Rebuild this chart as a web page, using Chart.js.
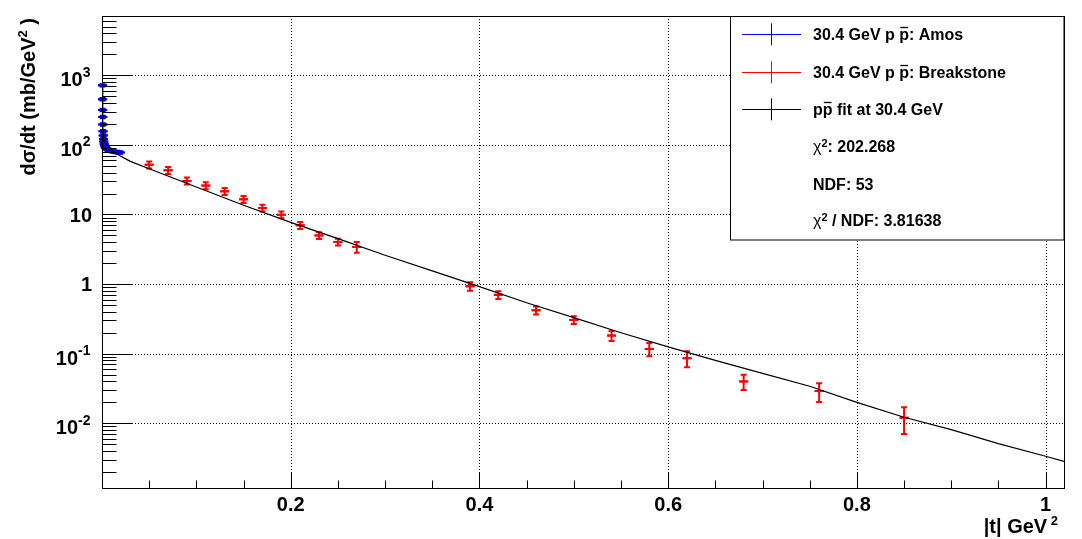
<!DOCTYPE html>
<html><head><meta charset="utf-8">
<script src="https://cdn.jsdelivr.net/npm/chart.js@4.4.0/dist/chart.umd.min.js"></script>
<style>html,body{margin:0;padding:0;background:#fff;overflow:hidden}canvas{display:block}</style>
</head><body>
<canvas id="c" width="1082" height="539"></canvas>
<script>
// ---- data ----
const amosT = [0.0005,0.0006,0.0007,0.0008,0.0009,0.0011,0.0013,0.0016,0.0019,0.0023,0.0027,0.0032,0.0037,0.0043,0.0050,0.0058,0.0067,0.0077,0.0088,0.0100,0.0113,0.0127,0.0142,0.0158,0.0175,0.0193];
const amosV = [718,452,318,252,196,157,137,122,112,104,99,95,92,90,88,86,85,84,83,82,81,80,79,79,78,78];
const amosE = [25,18,13,10,8,6,5.5,5,4.5,4.2,4,3.8,3.7,3.6,3.5,3.4,3.4,3.4,3.3,3.3,3.2,3.2,3.2,3.2,3.1,3.1];

const brkT = [0.05,0.07,0.09,0.11,0.13,0.15,0.17,0.19,0.21,0.23,0.25,0.27,0.39,0.42,0.46,0.50,0.54,0.58,0.62,0.68,0.76,0.85];
const brkV = [51.9,43.2,30.4,26.0,21.5,16.5,12.4,9.9,7.0,5.0,4.03,3.42,0.93,0.70,0.42,0.306,0.182,0.117,0.086,0.040,0.029,0.012];
const brkE = [6,5,3.5,3,2.5,1.9,1.4,1.1,0.8,0.55,0.45,0.6,0.13,0.09,0.055,0.04,0.03,0.025,0.022,0.010,0.0087,0.005];

const fitT = [0.0005,0.0007,0.0009,0.0012,0.002,0.004,0.0064,0.010,0.0145,0.019,0.03,0.05,0.10,0.15,0.20,0.25,0.30,0.35,0.40,0.45,0.50,0.55,0.60,0.65,0.70,0.75,0.80,0.85,0.90,0.95,1.00,1.0195];
const fitV = [720,330,200,140,118,102,93,83,76,70,58,45.5,24.8,13.6,7.7,4.5,2.6,1.55,0.92,0.54,0.33,0.20,0.125,0.080,0.052,0.034,0.020,0.0122,0.0081,0.0051,0.00336,0.00284];

const xMajorTicks = [0.2,0.4,0.6,0.8,1.0];
const xTickLabels = ['0.2','0.4','0.6','0.8','1'];
const xMinorStep = 0.05;
const yDecades = [0.01,0.1,1,10,100,1000];
const yTickBase = ['10','10','1','10','10','10'];
const yTickExp  = ['-2','-1','','','2','3'];

const legendRows = [
  {kind:'blue', parts:[['30.4 GeV p ','b'],['p','bo'],[': Amos','b']]},
  {kind:'red', parts:[['30.4 GeV p ','b'],['p','bo'],[': Breakstone','b']]},
  {kind:'black', parts:[['p','b'],['p','bo'],[' fit at 30.4 GeV','b']]},
  {kind:null, parts:[['\u03C7','chi'],['2','sup'],[': 202.268','b']]},
  {kind:null, parts:[['NDF: 53','b']]},
  {kind:null, parts:[['\u03C7','chi'],['2','sup'],[' / NDF: 3.81638','b']]}
];

const FF = '"Liberation Sans", Arial, Helvetica, sans-serif';

function rich(ctx, segs, x, y, align) {
  let w = 0;
  segs.forEach(s => { ctx.font = s.font; s.w = ctx.measureText(s.text).width; w += s.w; });
  let cx = align === 'right' ? x - w : (align === 'center' ? x - w / 2 : x);
  ctx.textAlign = 'left'; ctx.textBaseline = 'alphabetic';
  segs.forEach(s => {
    ctx.font = s.font; ctx.fillText(s.text, cx, y + (s.dy || 0));
    if (s.over) { ctx.beginPath(); ctx.lineWidth = 1.3; ctx.moveTo(cx + 1, y - 12.5); ctx.lineTo(cx + s.w - 1, y - 12.5); ctx.stroke(); }
    cx += s.w;
  });
  return w;
}

function errBars(ctx, chart, T, V, E, color) {
  const x = chart.scales.x, y = chart.scales.y;
  ctx.strokeStyle = color; ctx.lineWidth = 2; ctx.setLineDash([]);
  for (let i = 0; i < T.length; i++) {
    const px = x.getPixelForValue(T[i]);
    const pc = y.getPixelForValue(V[i]);
    const pTop = y.getPixelForValue(V[i] + E[i]);
    const pBot = y.getPixelForValue(Math.max(V[i] - E[i], 1e-6));
    ctx.beginPath();
    ctx.moveTo(px, pTop); ctx.lineTo(px, pBot);
    ctx.moveTo(px - 3, pTop); ctx.lineTo(px + 3, pTop);
    ctx.moveTo(px - 3, pBot); ctx.lineTo(px + 3, pBot);
    ctx.moveTo(px - 4.5, pc); ctx.lineTo(px + 4.5, pc);
    ctx.stroke();
  }
}

const rootPlugin = {
  id: 'rootStyle',
  beforeDatasetsDraw(chart) {
    const ctx = chart.ctx, a = chart.chartArea, x = chart.scales.x, y = chart.scales.y;
    ctx.save();
    ctx.strokeStyle = '#000'; ctx.lineWidth = 1; ctx.setLineDash([1, 2]);
    xMajorTicks.forEach(v => {
      const p = Math.round(x.getPixelForValue(v)) + 0.5;
      ctx.beginPath(); ctx.moveTo(p, a.top); ctx.lineTo(p, a.bottom); ctx.stroke();
    });
    yDecades.forEach(v => {
      const p = Math.round(y.getPixelForValue(v)) + 0.5;
      ctx.beginPath(); ctx.moveTo(a.left, p); ctx.lineTo(a.right, p); ctx.stroke();
    });
    ctx.setLineDash([]);
    errBars(ctx, chart, brkT, brkV, brkE, '#ff0000');
    errBars(ctx, chart, amosT, amosV, amosE, '#0000ff');
    ctx.restore();
  },
  afterDatasetsDraw(chart) {
    const ctx = chart.ctx, a = chart.chartArea, x = chart.scales.x, y = chart.scales.y;
    ctx.save();
    ctx.strokeStyle = '#000'; ctx.fillStyle = '#000'; ctx.lineWidth = 1; ctx.setLineDash([]);
    ctx.strokeRect(Math.round(a.left) + 0.5, Math.round(a.top) + 0.5, Math.round(a.right - a.left), Math.round(a.bottom - a.top));
    const bot = Math.round(a.bottom) + 0.5;
    for (let k = 1; k * xMinorStep <= x.max; k++) {
      const v = k * xMinorStep;
      const p = Math.round(x.getPixelForValue(v)) + 0.5;
      const major = xMajorTicks.some(m => Math.abs(m - v) < 1e-9);
      ctx.beginPath(); ctx.moveTo(p, bot); ctx.lineTo(p, bot - (major ? 16 : 8)); ctx.stroke();
    }
    const lft = Math.round(a.left) + 0.5;
    for (let e = -3; e <= 3; e++) {
      for (let m = 1; m <= 9; m++) {
        const v = m * Math.pow(10, e);
        if (v < y.min || v > y.max) continue;
        const p = Math.round(y.getPixelForValue(v)) + 0.5;
        ctx.beginPath(); ctx.moveTo(lft, p); ctx.lineTo(lft + (m === 1 ? 30 : 14), p); ctx.stroke();
      }
    }
    ctx.textAlign = 'center'; ctx.textBaseline = 'alphabetic';
    ctx.font = 'bold 20px ' + FF;
    xMajorTicks.forEach((v, i) => ctx.fillText(xTickLabels[i], x.getPixelForValue(v), 510.5));
    yDecades.forEach((v, i) => {
      const p = y.getPixelForValue(v);
      if (yTickExp[i]) {
        rich(ctx, [{text: yTickBase[i], font: 'bold 20px ' + FF, dy: 0},
                   {text: yTickExp[i], font: 'bold 14px ' + FF, dy: -9.5}], 90.5, p + 11, 'right');
      } else {
        ctx.textAlign = 'right'; ctx.font = 'bold 20px ' + FF;
        ctx.fillText(yTickBase[i], 92, p + 7.2);
      }
    });
    rich(ctx, [{text: '|t| GeV', font: 'bold 20px ' + FF},
               {text: ' 2', font: 'bold 13px ' + FF, dy: -8}], 1058, 533, 'right');
    ctx.save();
    const ysegs = [{text: 'd\u03C3/dt (mb/GeV', font: 'bold 20px ' + FF},
                   {text: '2', font: 'bold 13px ' + FF, dy: -8},
                   {text: ' )', font: 'bold 20px ' + FF}];
    let tw = 0; ysegs.forEach(s => { ctx.font = s.font; tw += ctx.measureText(s.text).width; });
    ctx.translate(35, 18 + tw); ctx.rotate(-Math.PI / 2);
    rich(ctx, ysegs, 0, 0, 'left');
    ctx.restore();
    ctx.restore();
  },
  afterDraw(chart) {
    const ctx = chart.ctx;
    ctx.save();
    ctx.fillStyle = '#fff'; ctx.fillRect(730, 16, 334, 224);
    ctx.strokeStyle = '#000'; ctx.lineWidth = 1; ctx.strokeRect(730.5, 16.5, 333.5, 223.5);
    const rowY = [34.3, 72.3, 109.3, 146, 184, 220.7];
    const colors = {blue: '#0000ff', red: '#ff0000', black: '#000000'};
    legendRows.forEach((r, i) => {
      const cy = rowY[i];
      if (r.kind) {
        ctx.strokeStyle = colors[r.kind]; ctx.lineWidth = 1;
        ctx.beginPath();
        ctx.moveTo(742, Math.round(cy) + 0.5); ctx.lineTo(801, Math.round(cy) + 0.5);
        ctx.moveTo(771.5, cy - 11); ctx.lineTo(771.5, cy + 11);
        ctx.stroke();
      }
      ctx.fillStyle = '#000'; ctx.strokeStyle = '#000';
      const segs = r.parts.map(([t, st]) => {
        if (st === 'chi') return {text: t, font: '16px ' + FF};
        if (st === 'sup') return {text: t, font: 'bold 11px ' + FF, dy: -5};
        return {text: t, font: 'bold 16px ' + FF, over: st === 'bo'};
      });
      rich(ctx, segs, 813, cy + 5.7, 'left');
    });
    ctx.restore();
  }
};

const ptsOf = (T, V) => T.map((t, i) => ({x: t, y: V[i]}));

new Chart(document.getElementById('c'), {
  type: 'scatter',
  data: {
    datasets: [
      {label: 'fit', data: ptsOf(fitT, fitV), showLine: true, borderColor: '#000', borderWidth: 1.2,
       pointRadius: 0, tension: 0, fill: false},
      {label: 'Amos', data: ptsOf(amosT, amosV), pointStyle: 'line', pointRadius: 4.5,
       borderColor: '#0000ff', backgroundColor: '#0000ff', borderWidth: 2, pointBorderWidth: 2, clip: false},
      {label: 'Breakstone', data: ptsOf(brkT, brkV), pointStyle: 'line', pointRadius: 4.5,
       borderColor: '#ff0000', backgroundColor: '#ff0000', borderWidth: 2, pointBorderWidth: 2, clip: false}
    ]
  },
  options: {
    responsive: false, animation: false, devicePixelRatio: 1, events: [],
    layout: {padding: {left: 0, top: 16, right: 18, bottom: 0}},
    plugins: {legend: {display: false}, tooltip: {enabled: false}},
    scales: {
      x: {type: 'linear', min: 0, max: 1.0195, grid: {display: false}, border: {display: false},
          ticks: {display: false}, afterFit: s => { s.height = 51; }},
      y: {type: 'logarithmic', min: 0.001175, max: 7112, grid: {display: false}, border: {display: false},
          ticks: {display: false}, afterFit: s => { s.width = 102; }}
    }
  },
  plugins: [rootPlugin]
});
</script>
</body></html>
